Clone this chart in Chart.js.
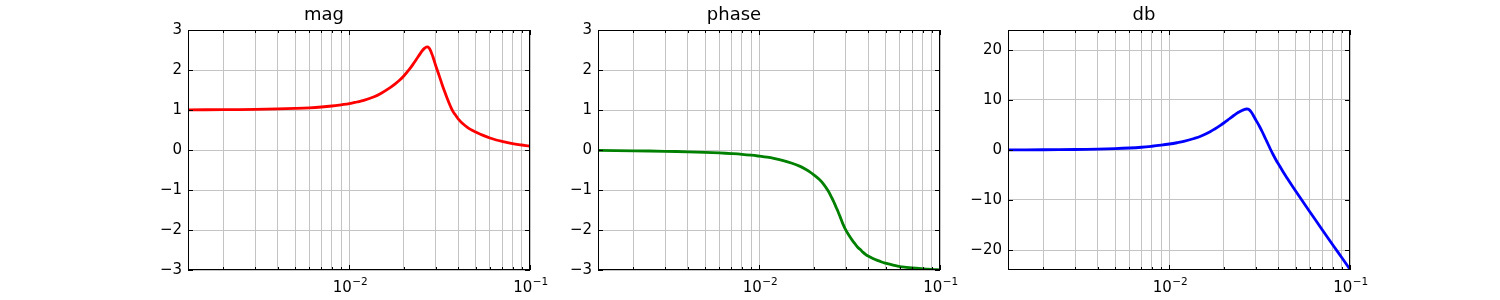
<!DOCTYPE html>
<html>
<head>
<meta charset="utf-8">
<script src="https://cdn.jsdelivr.net/npm/chart.js@4"></script>
<style>
  html, body { margin: 0; padding: 0; background: #fff; }
  #wrap { position: relative; width: 1500px; height: 300px; overflow: hidden; }
  canvas { position: absolute; top: 0; }
</style>
</head>
<body>
<div id="wrap">
  <canvas id="c0" width="437" height="300" style="left:118px"></canvas>
  <canvas id="c1" width="437" height="300" style="left:528px"></canvas>
  <canvas id="c2" width="437" height="300" style="left:938px"></canvas>
</div>
<script>
// ---- data ----
const freq = [0.001276, 0.002, 0.003, 0.004, 0.005, 0.006, 0.007, 0.008, 0.009, 0.01,
  0.011, 0.012, 0.0137, 0.015, 0.0168, 0.018, 0.019, 0.02, 0.0215, 0.0228,
  0.024, 0.0252, 0.026, 0.0267, 0.0272, 0.0278, 0.0285, 0.029, 0.03, 0.0315,
  0.0327, 0.034, 0.035, 0.0362, 0.0375, 0.039, 0.04, 0.0425, 0.045, 0.0475,
  0.05, 0.055, 0.06, 0.065, 0.07, 0.08, 0.09, 0.1];
const magValues = [1.004, 1.008, 1.016, 1.027, 1.04, 1.055, 1.075, 1.1, 1.13, 1.16,
  1.2, 1.24, 1.33, 1.42, 1.56, 1.66, 1.75, 1.85, 2.02, 2.18,
  2.33, 2.47, 2.54, 2.575, 2.575, 2.53, 2.42, 2.33, 2.12, 1.84,
  1.62, 1.41, 1.26, 1.1, 0.96, 0.85, 0.78, 0.655, 0.565, 0.5,
  0.45, 0.365, 0.3, 0.25, 0.215, 0.16, 0.125, 0.095];
const phaseValues = [-0.01, -0.02, -0.032, -0.045, -0.058, -0.073, -0.09, -0.108, -0.13, -0.155,
  -0.18, -0.21, -0.27, -0.325, -0.41, -0.48, -0.545, -0.62, -0.74, -0.87,
  -1.02, -1.2, -1.33, -1.45, -1.53, -1.64, -1.76, -1.85, -1.99, -2.15,
  -2.26, -2.36, -2.43, -2.49, -2.56, -2.62, -2.65, -2.71, -2.76, -2.8,
  -2.83, -2.88, -2.915, -2.935, -2.95, -2.97, -2.985, -2.995];
const dbValues = [0.02, 0.05, 0.1, 0.18, 0.28, 0.4, 0.55, 0.75, 0.97, 1.2,
  1.45, 1.72, 2.3, 2.8, 3.65, 4.3, 4.85, 5.4, 6.25, 6.95,
  7.5, 7.92, 8.1, 8.2, 8.17, 7.98, 7.5, 7.05, 6.1, 4.75,
  3.6, 2.3, 1.35, 0.2, -0.9, -2.05, -2.7, -4.3, -5.7, -7.0,
  -8.2, -10.4, -12.4, -14.2, -15.9, -18.9, -21.5, -23.9];

const xTicks = [0.002, 0.003, 0.004, 0.005, 0.006, 0.007, 0.008, 0.009, 0.01,
  0.02, 0.03, 0.04, 0.05, 0.06, 0.07, 0.08, 0.09, 0.1];
const xMajorLabels = { 0.01: ['10', '\u22122'], 0.1: ['10', '\u22121'] };
const xMin = 0.001276, xMax = 0.1;
const phaseTicks = [-3, -2, -1, 0, 1, 2, 3];
const dbTicks = [-20, -10, 0, 10, 20];

const panels = [
  { id: 'c0', title: 'mag',   values: magValues,   color: '#ff0000', yMin: -3,  yMax: 3,  yTicks: phaseTicks },
  { id: 'c1', title: 'phase', values: phaseValues, color: '#008000', yMin: -3,  yMax: 3,  yTicks: phaseTicks },
  { id: 'c2', title: 'db',    values: dbValues,    color: '#0000ff', yMin: -24, yMax: 24, yTicks: dbTicks }
];

const FONT = "'DejaVu Sans', sans-serif";

// frame + inward tick marks (matplotlib classic look) + 10^n labels
const framePlugin = {
  id: 'frame',
  afterDatasetsDraw(chart) {
    const { ctx, chartArea: a, scales } = chart;
    ctx.save();
    ctx.strokeStyle = '#000';
    ctx.lineWidth = 1;
    ctx.beginPath();
    const xs = scales.x, ys = scales.y;
    xs.ticks.forEach(t => {
      const px = Math.round(xs.getPixelForValue(t.value)) + 0.5;
      const len = xMajorLabels[t.value] ? 5 : 3;
      ctx.moveTo(px, a.bottom); ctx.lineTo(px, a.bottom - len);
      ctx.moveTo(px, a.top); ctx.lineTo(px, a.top + len);
    });
    ys.ticks.forEach(t => {
      const py = Math.round(ys.getPixelForValue(t.value)) + 0.5;
      ctx.moveTo(a.left, py); ctx.lineTo(a.left + 5, py);
      ctx.moveTo(a.right, py); ctx.lineTo(a.right - 5, py);
    });
    ctx.stroke();
    ctx.strokeRect(Math.round(a.left) + 0.5, Math.round(a.top) + 0.5,
                   Math.round(a.right - a.left) - 1, Math.round(a.bottom - a.top) - 1);
    ctx.restore();
  },
  afterDraw(chart) {
    const { ctx, chartArea: a, scales } = chart;
    const xs = scales.x;
    ctx.save();
    ctx.fillStyle = '#000';
    ctx.textBaseline = 'alphabetic';
    ctx.textAlign = 'left';
    xs.ticks.forEach(t => {
      const lab = xMajorLabels[t.value];
      if (!lab) return;
      const px = xs.getPixelForValue(t.value);
      ctx.font = '15px ' + FONT;
      const w1 = ctx.measureText(lab[0]).width;
      ctx.font = '10.5px ' + FONT;
      const w2 = ctx.measureText(lab[1]).width;
      const x0 = px - (w1 + w2) / 2 + 0.5;
      ctx.font = '15px ' + FONT;
      ctx.fillText(lab[0], x0, a.bottom + 22);
      ctx.font = '10.5px ' + FONT;
      ctx.fillText(lab[1], x0 + w1 + 0.5, a.bottom + 15);
    });
    ctx.restore();
  }
};

panels.forEach(p => {
  new Chart(document.getElementById(p.id), {
    type: 'line',
    data: {
      datasets: [{
        data: freq.map((f, i) => ({ x: f, y: p.values[i] })),
        borderColor: p.color,
        borderWidth: 2.8,
        pointRadius: 0,
        fill: false,
        tension: 0.4
      }]
    },
    options: {
      responsive: false,
      animation: false,
      devicePixelRatio: 1,
      layout: { padding: { left: 0, right: 25, top: 0, bottom: 0 } },
      plugins: {
        legend: { display: false },
        tooltip: { enabled: false },
        title: {
          display: true, text: p.title, color: '#000',
          font: { family: FONT, size: 18, weight: 'normal', lineHeight: 1.2 },
          padding: { top: 5, bottom: 3.4 }
        }
      },
      scales: {
        x: {
          type: 'logarithmic', min: xMin, max: xMax, bounds: 'data',
          afterBuildTicks: s => { s.ticks = xTicks.map(v => ({ value: v, major: !!xMajorLabels[v] })); },
          afterFit: s => { s.height = 30; },
          grid: { color: '#c4c4c4', lineWidth: 1, drawTicks: false },
          border: { display: false },
          ticks: {
            autoSkip: false, maxRotation: 0, padding: 7, color: '#000',
            font: { family: FONT, size: 15 },
            callback: () => ''
          }
        },
        y: {
          type: 'linear', min: p.yMin, max: p.yMax,
          afterBuildTicks: s => { s.ticks = p.yTicks.map(v => ({ value: v })); },
          afterFit: s => { s.width = 70; },
          grid: { color: '#c4c4c4', lineWidth: 1, drawTicks: false },
          border: { display: false },
          ticks: {
            padding: 6, color: '#000',
            font: { family: FONT, size: 15 },
            callback: v => String(v).replace('-', '\u2212')
          }
        }
      }
    },
    plugins: [framePlugin]
  });
});
</script>
</body>
</html>
